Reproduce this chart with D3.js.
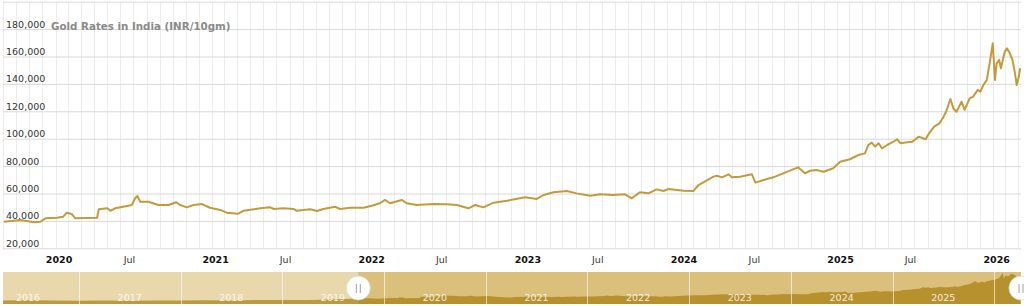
<!DOCTYPE html>
<html>
<head>
<meta charset="utf-8">
<script src="https://cdn.jsdelivr.net/npm/d3@7"></script>
<style>
  html, body { margin: 0; padding: 0; background: #ffffff; }
  svg { display: block; font-family: "DejaVu Sans", Verdana, sans-serif; }
</style>
</head>
<body>
<svg id="chart" width="1024" height="306"></svg>
<script>
// ---------------- DATA ----------------
const chartTitle = "Gold Rates in India (INR/10gm)";

const priceDates = [
  "2019-10-03","2019-11-11","2019-12-12","2019-12-27","2020-01-08","2020-02-04","2020-02-19","2020-02-27",
  "2020-03-10","2020-03-18","2020-05-08","2020-05-12","2020-06-01","2020-06-08","2020-06-19","2020-07-17",
  "2020-07-28","2020-08-05","2020-08-10","2020-08-17","2020-09-05","2020-09-28","2020-10-22","2020-11-09",
  "2020-11-18","2020-12-04","2020-12-19","2021-01-08","2021-01-27","2021-02-20","2021-03-07","2021-04-03",
  "2021-04-15","2021-05-24","2021-06-17","2021-06-25","2021-07-18","2021-08-10","2021-08-18","2021-09-18",
  "2021-10-04","2021-10-19","2021-11-15","2021-11-27","2021-12-20","2022-01-21","2022-02-09","2022-02-28",
  "2022-03-12","2022-03-24","2022-04-20","2022-05-02","2022-05-25","2022-07-03","2022-08-04","2022-08-27",
  "2022-09-23","2022-10-09","2022-10-28","2022-11-21","2022-12-22","2023-02-03","2023-03-02","2023-03-18",
  "2023-04-10","2023-05-11","2023-06-03","2023-07-05","2023-07-28","2023-08-28","2023-09-24","2023-10-10",
  "2023-10-29","2023-11-18","2023-12-07","2023-12-23","2024-01-04","2024-02-08","2024-03-02","2024-03-14",
  "2024-04-18","2024-04-26","2024-05-08","2024-05-23","2024-05-31","2024-06-19","2024-07-17","2024-07-25",
  "2024-08-13","2024-09-05","2024-09-28","2024-10-18","2024-11-02","2024-11-18","2024-11-30","2024-12-15",
  "2024-12-31","2025-01-23","2025-02-08","2025-03-03","2025-03-23","2025-04-07","2025-04-15","2025-04-23",
  "2025-05-01","2025-05-09","2025-05-17","2025-05-29","2025-06-13","2025-06-21","2025-06-29","2025-07-15",
  "2025-07-27","2025-08-11","2025-08-27","2025-09-04","2025-09-16","2025-09-28","2025-10-06","2025-10-14",
  "2025-10-24","2025-10-31","2025-11-07","2025-11-19","2025-11-26","2025-12-08","2025-12-16","2025-12-27",
  "2026-01-02","2026-01-09","2026-01-17","2026-01-25","2026-01-31","2026-02-05","2026-02-09","2026-02-15",
  "2026-02-19","2026-02-28","2026-03-05","2026-03-12","2026-03-18","2026-03-24","2026-03-28","2026-04-01",
  "2026-04-05"
];
const priceValues = [
  39400,40700,39000,39400,41900,42300,43100,46000,
  45000,41900,42300,48500,49200,47400,49200,50900,
  51600,56500,58200,54000,54000,51600,51600,53600,
  51600,49900,51600,52300,49600,48000,46000,45300,
  47400,49200,49900,48700,49200,48700,47400,48500,
  47200,48700,50400,48700,49600,49600,51100,52900,
  55300,52900,55300,52900,51600,52300,52100,51600,
  49200,51600,49900,53300,54700,57200,56000,58900,
  60900,61800,60100,58400,59400,58900,59400,56500,
  60900,60100,63000,61800,63300,62000,61800,66200,
  72300,73000,71800,74000,71800,72300,74000,67900,
  69900,71800,74700,77200,79100,74700,76600,77200,
  75900,78400,83200,85000,88100,89300,95400,97100,
  94200,96700,93000,95400,97800,99600,96700,97400,
  97800,101500,99600,103900,108800,111200,114900,119700,
  129000,122000,119700,127000,121000,129500,130700,135600,
  134300,139200,142800,157500,169700,142800,155000,157500,
  151400,163500,166000,162300,157500,147700,139200,144100,
  151400
];

// earlier history only visible in the navigator strip
const historyDates  = ["2016-04-03","2016-07-01","2016-10-01","2017-01-01","2017-04-01","2017-07-01","2017-10-01",
                       "2018-01-01","2018-04-01","2018-07-01","2018-10-01","2019-01-01","2019-04-01","2019-07-01","2019-09-01"];
const historyValues = [29500,31500,30000,28500,29500,28500,29800,
                       30000,31300,30000,31800,32300,31800,35000,38500];

const yTickValues = [20000,40000,60000,80000,100000,120000,140000,160000,180000,200000];
const navYearLabels = [2016,2017,2018,2019,2020,2021,2022,2023,2024,2025];

// ---------------- DRAW ----------------
(function draw() {
const parse = d3.timeParse("%Y-%m-%d");
const series = priceDates.map((d,i)=>({date: parse(d), value: priceValues[i]}));
const history = historyDates.map((d,i)=>({date: parse(d), value: historyValues[i]}));
const navSeries = history.concat(series);

const svg = d3.select("#chart");
const pLeft = 3, pRight = 1021, pTop = 1.7, pBottom = 248.3;
const viewStart = parse("2019-10-01"), viewEnd = parse("2026-04-07");

const x = d3.scaleTime().domain([viewStart, viewEnd]).range([pLeft, pRight]);
const y = d3.scaleLinear().domain([20000, 200000]).range([pBottom, pTop]);

// vertical monthly grid
const months = d3.timeMonth.range(d3.timeMonth.ceil(viewStart), viewEnd);
svg.append("g").selectAll("line").data(months).join("line")
  .attr("x1", d => Math.round(x(d)) + 0.5).attr("x2", d => Math.round(x(d)) + 0.5)
  .attr("y1", pTop).attr("y2", pBottom)
  .attr("stroke", "#ececec").attr("stroke-width", 1);

// horizontal grid + labels via axis
const yAxis = d3.axisRight(y).tickValues(yTickValues).tickSize(pRight - pLeft)
  .tickFormat(d => d >= 200000 ? "" : d3.format(",")(d));
const gy = svg.append("g").attr("transform", `translate(${pLeft},0)`).call(yAxis);
gy.select(".domain").remove();
gy.selectAll(".tick line").attr("stroke", "#d9d9d9");
gy.selectAll(".tick text")
  .attr("x", 3).attr("dy", "-2px").attr("text-anchor", "start")
  .attr("font-size", "9.5px").attr("fill", "#333")
  .attr("font-family", "DejaVu Sans, Verdana, sans-serif");

// title
svg.append("text").text(chartTitle)
  .attr("x", 51).attr("y", 29.5)
  .attr("font-size", "10.3px").attr("font-weight", "bold").attr("fill", "#8a8a8a");

// price line
const line = d3.line().x(d => x(d.date)).y(d => y(d.value));
svg.append("path").datum(series)
  .attr("d", line).attr("fill", "none")
  .attr("stroke", "#c49b3c").attr("stroke-width", 2).attr("stroke-linejoin", "round");

// x axis labels
const xAxis = d3.axisBottom(x).ticks(d3.timeMonth.every(6)).tickSize(0)
  .tickFormat(d => d.getMonth() === 0 ? d3.timeFormat("%Y")(d) : d3.timeFormat("%b")(d));
const gx = svg.append("g").attr("transform", `translate(0,${pBottom})`).call(xAxis);
gx.select(".domain").remove();
gx.selectAll(".tick text")
  .attr("text-anchor", "start").attr("x", 3).attr("y", 15).attr("dy", 0)
  .attr("font-size", "9.5px").attr("font-family", "DejaVu Sans, Verdana, sans-serif")
  .attr("fill", d => d.getMonth() === 0 ? "#111" : "#333")
  .attr("font-weight", d => d.getMonth() === 0 ? "bold" : "normal");

// ---------------- NAVIGATOR ----------------
const nTop = 272, nBot = 304;
const navStart = parse("2016-04-03");
const xn = d3.scaleTime().domain([navStart, viewEnd]).range([pLeft, pRight]);
const yn = d3.scaleLinear().domain([12000, 175000]).range([nBot, nTop]);

const nav = svg.append("g");
nav.append("rect").attr("x", pLeft).attr("y", nTop).attr("width", pRight - pLeft).attr("height", nBot - nTop)
  .attr("fill", "#e8d5a4");
nav.append("rect").attr("x", xn(viewStart)).attr("y", nTop).attr("width", pRight - xn(viewStart)).attr("height", nBot - nTop)
  .attr("fill", "#dbc07c");
const area = d3.area().x(d => xn(d.date)).y0(nBot).y1(d => yn(d.value));
nav.append("path").datum(navSeries).attr("d", area).attr("fill", "#b8912f");
nav.append("rect").attr("x", pLeft).attr("y", nTop).attr("width", xn(viewStart) - pLeft).attr("height", nBot - nTop)
  .attr("fill", "#ffffff").attr("opacity", 0.08);

const navYears = d3.timeYear.range(d3.timeYear.ceil(navStart), viewEnd);
nav.append("g").selectAll("line").data(navYears).join("line")
  .attr("x1", d => Math.round(xn(d)) + 0.5).attr("x2", d => Math.round(xn(d)) + 0.5)
  .attr("y1", nTop).attr("y2", nBot)
  .attr("stroke", "#ffffff").attr("stroke-opacity", 0.6);
nav.append("g").selectAll("text").data(navYearLabels).join("text")
  .attr("x", d => xn(new Date(d, 6, 2)))
  .attr("y", 301)
  .attr("text-anchor", "middle")
  .attr("font-size", "9.5px").attr("fill", "#ffffff").attr("fill-opacity", 0.85)
  .text(d => d);

function handle(cx) {
  const g = svg.append("g");
  g.append("circle").attr("cx", cx).attr("cy", 288).attr("r", 12)
    .attr("fill", "#ffffff").attr("stroke", "#d8d8d8").attr("stroke-width", 0.8);
  [-2, 2].forEach(dx => g.append("line")
    .attr("x1", cx + dx).attr("x2", cx + dx).attr("y1", 284).attr("y2", 293)
    .attr("stroke", "#a0a0a0").attr("stroke-width", 1));
}
handle(xn(viewStart));
handle(xn(viewEnd));
})();
</script>
</body>
</html>
